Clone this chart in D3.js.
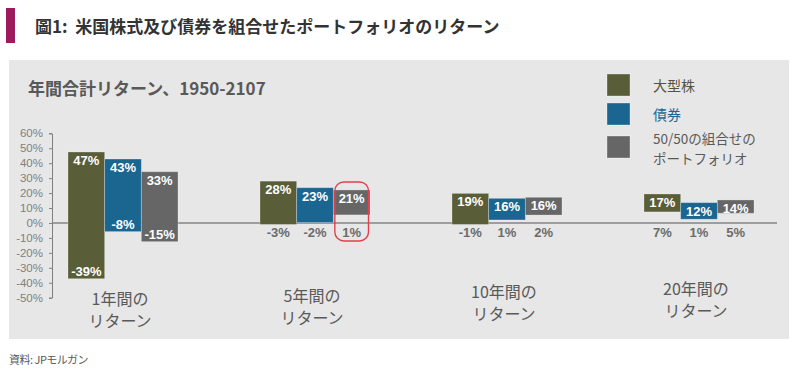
<!DOCTYPE html>
<html>
<head>
<meta charset="utf-8">
<script src="https://cdn.jsdelivr.net/npm/d3@7"></script>
<style>
  body { margin: 0; background: #fff; }
  text { white-space: pre; }
</style>
</head>
<body>
<div id="chart"></div>
<script>
// categories (two lines each)
const categories = [
  ["1年間の", "リターン"],
  ["5年間の", "リターン"],
  ["10年間の", "リターン"],
  ["20年間の", "リターン"]
];
const seriesNames = ["大型株", "債券", "50/50の組合せの\nポートフォリオ"];
const seriesColors = ["#595d38", "#1a6690", "#666666"];

// bar extents (%)
const stockHigh = [47.5, 28, 19.8, 19.4];
const stockLow = [-37.3, -1, -1, 7.4];
const bondHigh = [42.8, 23.6, 16.5, 13.6];
const bondLow = [-5.8, 0.3, 2, 2.5];
const mixHigh = [34.3, 22.1, 17.2, 15.4];
const mixLow = [-12.5, 5.4, 5.3, 6.5];

// printed labels (%)
const stockHighLabel = [47, 28, 19, 17];
const stockLowLabel = [-39, -3, -1, 7];
const bondHighLabel = [43, 23, 16, 12];
const bondLowLabel = [-8, -2, 1, 1];
const mixHighLabel = [33, 21, 16, 14];
const mixLowLabel = [-15, 1, 2, 5];

const yTicks = [60, 50, 40, 30, 20, 10, 0, -10, -20, -30, -40, -50];

const width = 800, height = 383;
const cjk = "'Noto Sans CJK JP', 'Noto Sans', sans-serif";
const latin = "'Liberation Sans', Arial, sans-serif";

const svg = d3.select("#chart").append("svg")
  .attr("width", width)
  .attr("height", height);

// header
svg.append("rect").attr("x", 6).attr("y", 8).attr("width", 9).attr("height", 35)
  .attr("fill", "#9c1b5c");
svg.append("text")
  .attr("x", 35).attr("y", 25)
  .attr("dominant-baseline", "central")
  .attr("font-family", cjk).attr("font-size", 17).attr("font-weight", "bold")
  .attr("fill", "#333")
  .text("圖1:  米国株式及び債券を組合せたポートフォリオのリターン");

// panel
svg.append("rect").attr("x", 9).attr("y", 60).attr("width", 780).attr("height", 279)
  .attr("fill", "#e7e7e7");
svg.append("text")
  .attr("x", 28).attr("y", 87)
  .attr("dominant-baseline", "central")
  .attr("font-family", cjk).attr("font-size", 17).attr("font-weight", "bold")
  .attr("fill", "#595959")
  .text("年間合計リターン、1950-2107");

// scales
const y = d3.scaleLinear().domain([-50, 60]).range([297.7, 133.3]);
const x = d3.scaleBand().domain(d3.range(categories.length)).range([27, 795]);
const xs = d3.scaleBand().domain(d3.range(seriesNames.length)).range([-55, 55]);

// y axis
const yAxis = svg.append("g")
  .attr("transform", "translate(52,0)")
  .call(d3.axisLeft(y).tickValues(yTicks).tickSize(3).tickPadding(6)
    .tickSizeOuter(3).tickFormat(d => d + "%"));
yAxis.selectAll("path, line").attr("stroke", "#808080");
yAxis.selectAll("text")
  .attr("font-family", latin).attr("font-size", 11.5).attr("fill", "#7f7f7f");

// zero line
svg.append("line")
  .attr("x1", 52).attr("x2", 777)
  .attr("y1", y(0)).attr("y2", y(0))
  .attr("stroke", "#858585").attr("stroke-width", 1.5);

const highs = [stockHigh, bondHigh, mixHigh];
const lows = [stockLow, bondLow, mixLow];
const highLabels = [stockHighLabel, bondHighLabel, mixHighLabel];
const lowLabels = [stockLowLabel, bondLowLabel, mixLowLabel];

const bars = [];
categories.forEach((c, ci) => {
  seriesNames.forEach((s, si) => {
    bars.push({
      ci, si,
      high: highs[si][ci], low: lows[si][ci],
      hl: highLabels[si][ci], ll: lowLabels[si][ci]
    });
  });
});

const bw = xs.bandwidth();
const bx = d => x(d.ci) + x.bandwidth() / 2 + xs(d.si);

svg.selectAll(".bar").data(bars).enter().append("rect")
  .attr("class", "bar")
  .attr("x", bx)
  .attr("y", d => y(d.high))
  .attr("width", bw)
  .attr("height", d => y(d.low) - y(d.high))
  .attr("fill", d => seriesColors[d.si])
  .attr("stroke", "rgba(255,255,255,0.35)")
  .attr("stroke-width", 0.8);

// labels on top of bars
svg.selectAll(".hl").data(bars).enter().append("text")
  .attr("x", d => bx(d) + bw / 2)
  .attr("y", d => y(d.high) + 8.5)
  .attr("text-anchor", "middle").attr("dominant-baseline", "central")
  .attr("font-family", latin).attr("font-size", 13).attr("font-weight", "bold")
  .attr("fill", "#fff")
  .text(d => d.hl + "%");

// low labels: inside for deep negatives, below zero line otherwise
svg.selectAll(".ll").data(bars).enter().append("text")
  .attr("x", d => bx(d) + bw / 2)
  .attr("y", d => d.low < -5 ? y(d.low) - 7 : y(0) + 9.5)
  .attr("text-anchor", "middle").attr("dominant-baseline", "central")
  .attr("font-family", latin).attr("font-size", 13).attr("font-weight", "bold")
  .attr("fill", d => d.low < -5 ? "#fff" : "#6b6b6b")
  .text(d => d.ll + "%");

// highlight around the 5-year portfolio bar
const hi = bars.find(d => d.ci === 1 && d.si === 2);
svg.append("rect")
  .attr("x", bx(hi) + 1.5)
  .attr("y", y(hi.high) - 8)
  .attr("width", bw - 3)
  .attr("height", y(0) + 18 - (y(hi.high) - 8))
  .attr("rx", 9)
  .attr("fill", "none")
  .attr("stroke", "#e2404e")
  .attr("stroke-width", 1.4);

// category labels, one text per line
categories.forEach((c, ci) => {
  c.forEach((line, li) => {
    svg.append("text")
      .attr("x", x(ci) + x.bandwidth() / 2 - 3)
      .attr("y", 298 - ci * 3.5 + li * 22)
      .attr("text-anchor", "middle").attr("dominant-baseline", "central")
      .attr("font-family", cjk).attr("font-size", 16)
      .attr("fill", "#595959")
      .text(line);
  });
});

// legend
const lg = svg.append("g");
seriesNames.forEach((s, si) => {
  const ly = [74, 103, 136][si];
  lg.append("rect").attr("x", 607).attr("y", ly).attr("width", 23).attr("height", 22)
    .attr("fill", seriesColors[si])
    .attr("stroke", "rgba(255,255,255,0.4)").attr("stroke-width", 0.8);
  s.split("\n").forEach((line, li) => {
    lg.append("text")
      .attr("x", 653)
      .attr("y", (si < 2 ? ly + 11 : ly + 1.5) + li * 20)
      .attr("dominant-baseline", "central")
      .attr("font-family", cjk).attr("font-size", si < 2 ? 14 : 13.5)
      .attr("fill", ["#55553f", "#1a6690", "#595959"][si])
      .text(line);
  });
});

// source
svg.append("text")
  .attr("x", 9).attr("y", 359)
  .attr("dominant-baseline", "central")
  .attr("font-family", cjk).attr("font-size", 11).attr("fill", "#595959")
  .attr("letter-spacing", -0.5)
  .text("資料: JPモルガン");
</script>
</body>
</html>
